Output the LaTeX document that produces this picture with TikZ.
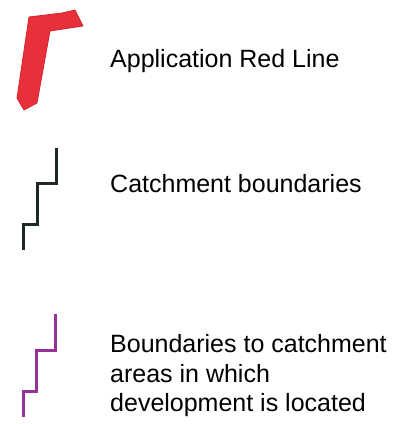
\documentclass[tikz,border=0pt]{standalone}
\usepackage{fontspec}
\setmainfont{Liberation Sans}
\definecolor{redline}{RGB}{232,48,58}
\definecolor{rededge}{RGB}{215,35,45}
\definecolor{catch}{RGB}{30,40,35}
\definecolor{devpurple}{RGB}{150,50,150}
\tikzset{
  legendtext/.style={anchor=base west, inner sep=0pt, font=\fontsize{25}{29.3}\selectfont, align=left},
  stepline/.style={line width=3pt, line join=miter}
}
\begin{document}
\begin{tikzpicture}[x=1pt,y=-1pt]
\useasboundingbox (0,0) rectangle (416,424);
\fill[white] (0,0) rectangle (416,424);
% red application line
\filldraw[fill=redline, draw=rededge, line width=0.8pt, line join=round]
  (29,17) -- (62,13) -- (75,10) -- (83,26) -- (50,31) -- (37,103) -- (24,110) -- (17,98) -- cycle;
\node[legendtext] (t1) at (110,67) {Application Red Line};
% catchment boundaries
\draw[stepline, catch] (56,148) -- (56,183) -- (37,183) -- (37,224) -- (23,224) -- (23,250);
\node[legendtext] (t2) at (110,192) {Catchment boundaries};
% purple boundaries
\draw[stepline, devpurple] (55,314) -- (55,350) -- (36,350) -- (36,391) -- (23,391) -- (23,417);
\node[legendtext, anchor=north west] (t3) at (110,332) {\strut Boundaries to catchment\\areas in which\\development is located};
\end{tikzpicture}
\end{document}
